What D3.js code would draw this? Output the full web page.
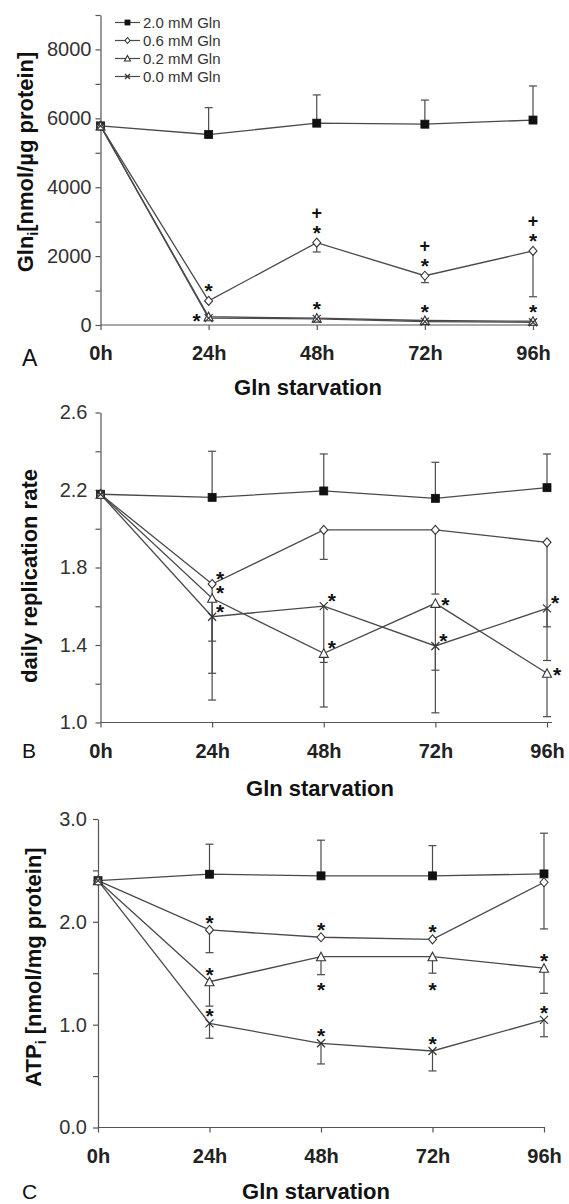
<!DOCTYPE html>
<html>
<head>
<meta charset="utf-8">
<script src="https://cdn.jsdelivr.net/npm/d3@7"></script>
<style>
  html, body { margin: 0; padding: 0; background: #fff; }
  svg { display: block; }
  text { font-family: "Liberation Sans", Arial, Helvetica, sans-serif; }
</style>
</head>
<body>
<svg id="chart" width="569" height="1204"></svg>
<script>
// ---- shared categories ----
const timeLabels = ["0h", "24h", "48h", "72h", "96h"];
const seriesNames = ["2.0 mM Gln", "0.6 mM Gln", "0.2 mM Gln", "0.0 mM Gln"];
const markerTypes = ["square", "diamond", "triangle", "cross"];

// ---- panel A: intracellular glutamine [nmol/µg protein] ----
const glnA_20 = [5780, 5530, 5860, 5830, 5950];
const glnA_06 = [5780, 700, 2390, 1430, 2150];
const glnA_02 = [5780, 240, 200, 130, 110];
const glnA_00 = [5780, 200, 180, 100, 80];
const glnA_err20Up = [0, 780, 820, 700, 990];
const glnA_err06Down = [0, 0, 270, 200, 1330];
const glnA_ticks = [0, 1000, 2000, 3000, 4000, 5000, 6000, 7000, 8000, 9000];
const glnA_tickLabels = ["0", "", "2000", "", "4000", "", "6000", "", "8000", ""];
// significance marks: time index, series index, symbol, placement
const glnA_marks = [
  [1, 1, "*", "above"], [1, 3, "*", "left"],
  [2, 1, "*", "above"], [2, 1, "+", "above2"], [2, 3, "*", "above"],
  [3, 1, "*", "above"], [3, 1, "+", "above2"], [3, 3, "*", "above"],
  [4, 1, "*", "above"], [4, 1, "+", "above2"], [4, 3, "*", "above"]
];

// ---- panel B: daily replication rate ----
const rateB_20 = [2.178, 2.162, 2.195, 2.157, 2.212];
const rateB_06 = [2.178, 1.715, 1.994, 1.994, 1.930];
const rateB_02 = [2.178, 1.641, 1.357, 1.615, 1.254];
const rateB_00 = [2.178, 1.546, 1.601, 1.395, 1.589];
const rateB_err20Up = [0, 0.238, 0.191, 0.186, 0.174];
const rateB_err06Down = [0, 0.295, 0.152, 0.331, 0.436];
const rateB_err02Down = [0, 0.387, 0.047, 0.345, 0.224];
const rateB_err00Down = [0, 0.430, 0.521, 0.345, 0.269];
const rateB_ticks = [1.0, 1.2, 1.4, 1.6, 1.8, 2.0, 2.2, 2.4, 2.6];
const rateB_tickLabels = ["1.0", "", "1.4", "", "1.8", "", "2.2", "", "2.6"];
const rateB_marks = [
  [1, 1, "*", "upright"], [1, 2, "*", "upright"], [1, 3, "*", "upright"],
  [2, 3, "*", "upright"], [2, 2, "*", "upright"],
  [3, 2, "*", "right"], [3, 3, "*", "upright"],
  [4, 3, "*", "upright"], [4, 2, "*", "right"]
];

// ---- panel C: intracellular ATP [nmol/mg protein] ----
const atpC_20 = [2.40, 2.463, 2.447, 2.447, 2.466];
const atpC_06 = [2.40, 1.921, 1.850, 1.830, 2.385];
const atpC_02 = [2.40, 1.418, 1.661, 1.661, 1.549];
const atpC_00 = [2.40, 1.013, 0.819, 0.744, 1.046];
const atpC_err20Up = [0, 0.292, 0.347, 0.294, 0.396];
const atpC_err06Down = [0, 0.221, 0, 0, 0.454];
const atpC_err02Down = [0, 0.238, 0.175, 0.160, 0.244];
const atpC_err00Down = [0, 0.145, 0.201, 0.194, 0.163];
const atpC_ticks = [0, 0.5, 1.0, 1.5, 2.0, 2.5, 3.0];
const atpC_tickLabels = ["0.0", "", "1.0", "", "2.0", "", "3.0"];
const atpC_marks = [
  [1, 1, "*", "above"], [1, 2, "*", "above"], [1, 3, "*", "above"],
  [2, 1, "*", "above"], [2, 2, "*", "below"], [2, 3, "*", "above"],
  [3, 1, "*", "above"], [3, 2, "*", "below"], [3, 3, "*", "above"],
  [4, 2, "*", "above"], [4, 3, "*", "above"]
];

const svg = d3.select("#chart");
const LINE = "#4a4a4a";
const INK = "#222";

function drawMarker(sel, type, s) {
  const h = s / 2;
  if (type === "square") {
    sel.append("rect").attr("x", -h).attr("y", -h).attr("width", s).attr("height", s)
      .attr("fill", "#111").attr("stroke", "#111").attr("stroke-width", 0.8);
  } else if (type === "diamond") {
    sel.append("path").attr("d", `M0,${-h - 0.5}L${h},0L0,${h + 0.5}L${-h},0Z`)
      .attr("fill", "#fff").attr("stroke", "#333").attr("stroke-width", 1.1);
  } else if (type === "triangle") {
    sel.append("path").attr("d", `M0,${-h - 0.5}L${h + 0.5},${h}L${-h - 0.5},${h}Z`)
      .attr("fill", "#fff").attr("stroke", "#333").attr("stroke-width", 1.1);
  } else {
    sel.append("path").attr("d", `M${-h},${-h}L${h},${h}M${-h},${h}L${h},${-h}`)
      .attr("fill", "none").attr("stroke", "#333").attr("stroke-width", 1.2);
  }
}

function drawPanel(cfg) {
  const g = svg.append("g");
  const x = d3.scalePoint().domain(timeLabels).range(cfg.xRange);
  const y = d3.scaleLinear().domain(cfg.yDomain).range(cfg.yRange);

  // y axis
  const yAxis = d3.axisLeft(y).tickValues(cfg.ticks).tickSize(5).tickSizeOuter(0)
    .tickPadding(cfg.yPad).tickFormat((d, i) => cfg.tickLabels[i]);
  const ya = g.append("g").attr("transform", `translate(${cfg.xRange[0]},0)`).call(yAxis);
  ya.selectAll("path, line").attr("stroke", "#555").attr("stroke-width", 1.2);
  ya.selectAll("text").attr("font-size", 20).attr("fill", "#333")
    .attr("font-family", "'Liberation Sans', Arial, sans-serif");

  // x axis
  const xAxis = d3.axisBottom(x).tickSize(5).tickSizeOuter(0).tickPadding(16);
  const xa = g.append("g").attr("transform", `translate(0,${cfg.yRange[0]})`).call(xAxis);
  xa.select("path").attr("d", `M${cfg.xRange[0]},0H${cfg.xRange[1] + cfg.xExtra}`);
  xa.selectAll("path, line").attr("stroke", "#555").attr("stroke-width", 1.2);
  xa.selectAll("text").attr("font-size", 20).attr("font-weight", "bold").attr("fill", INK)
    .attr("font-family", "'Liberation Sans', Arial, sans-serif");

  // series lines
  const line = d3.line().x((d, i) => x(timeLabels[i])).y(d => y(d));
  cfg.series.forEach(vals => {
    g.append("path").datum(vals).attr("d", line)
      .attr("fill", "none").attr("stroke", LINE).attr("stroke-width", 1.3);
  });

  // error bars (one-sided)
  cfg.errors.forEach(([si, dir, errs]) => {
    errs.forEach((e, i) => {
      if (!e) return;
      const v = cfg.series[si][i];
      const cx = x(timeLabels[i]);
      const y0 = y(v), y1 = y(dir === "up" ? v + e : v - e);
      g.append("line").attr("x1", cx).attr("x2", cx).attr("y1", y0).attr("y2", y1)
        .attr("stroke", LINE).attr("stroke-width", 1.2);
      g.append("line").attr("x1", cx - 4).attr("x2", cx + 4).attr("y1", y1).attr("y2", y1)
        .attr("stroke", LINE).attr("stroke-width", 1.2);
    });
  });

  // markers
  cfg.series.forEach((vals, si) => {
    vals.forEach((v, i) => {
      const m = g.append("g").attr("transform", `translate(${x(timeLabels[i])},${y(v)})`);
      drawMarker(m, markerTypes[si], 8);
    });
  });

  // significance marks
  const place = cfg.place;
  cfg.marks.forEach(([ti, si, sym, where]) => {
    const [dx, dy] = place[where];
    const cx = x(timeLabels[ti]) + dx;
    const cy = y(cfg.series[si][ti]) + dy;
    if (sym === "*") {
      g.append("text").attr("x", cx).attr("y", cy + 12).attr("text-anchor", "middle")
        .attr("font-size", 21).attr("font-weight", "bold").attr("fill", "#111").text("*");
    } else {
      g.append("text").attr("x", cx).attr("y", cy + 6.5).attr("text-anchor", "middle")
        .attr("font-size", 18).attr("font-weight", "bold").attr("fill", "#111").text("+");
    }
  });

  // axis titles and panel letter
  const yt = g.append("text")
    .attr("transform", `translate(${cfg.yTitleX},${cfg.yTitleY}) rotate(-90)`)
    .attr("text-anchor", "middle").attr("font-size", 22).attr("font-weight", "bold").attr("fill", "#111");
  cfg.yTitle.forEach(([t, sub]) => {
    const ts = yt.append("tspan").text(t);
    if (sub) ts.attr("font-size", 14).attr("dy", 5);
    else if (cfg.yTitle.length > 1) ts.attr("dy", sub === false ? -5 : 0);
  });

  g.append("text").attr("x", cfg.xTitleX).attr("y", cfg.xTitleY).attr("text-anchor", "middle")
    .attr("font-size", 22).attr("font-weight", "bold").attr("fill", "#111").text("Gln starvation");

  g.append("text").attr("x", 22).attr("y", cfg.letterY).attr("font-size", cfg.letterSize)
    .attr("fill", "#111").text(cfg.letter);

  return { g, x, y };
}

// Panel A
const pA = drawPanel({
  xRange: [100.5, 533], xExtra: 4, yDomain: [0, 9000], yRange: [325, 15],
  ticks: glnA_ticks, tickLabels: glnA_tickLabels, yPad: 4,
  series: [glnA_20, glnA_06, glnA_02, glnA_00],
  errors: [[0, "up", glnA_err20Up], [1, "down", glnA_err06Down]],
  marks: glnA_marks,
  place: { above: [0, -15], above2: [0, -30], left: [-12, -2] },
  yTitle: [["Gln", null], ["i", true], ["[nmol/µg protein]", false]],
  yTitleX: 33, yTitleY: 162,
  xTitleX: 308, xTitleY: 395, letter: "A", letterY: 366, letterSize: 23
});

// legend for panel A
const legend = pA.g.append("g");
seriesNames.forEach((name, i) => {
  const ly = 22.5 + i * 18;
  legend.append("line").attr("x1", 115).attr("x2", 140).attr("y1", ly).attr("y2", ly)
    .attr("stroke", LINE).attr("stroke-width", 1.2);
  const m = legend.append("g").attr("transform", `translate(127.5,${ly})`);
  drawMarker(m, markerTypes[i], 5);
  legend.append("text").attr("x", 143).attr("y", ly + 5.5).attr("font-size", 15)
    .attr("fill", "#333").text(name);
});

// Panel B
drawPanel({
  xRange: [100.5, 547], xExtra: 5, yDomain: [1.0, 2.6], yRange: [722.5, 412.5],
  ticks: rateB_ticks, tickLabels: rateB_tickLabels, yPad: 8,
  series: [rateB_20, rateB_06, rateB_02, rateB_00],
  errors: [[0, "up", rateB_err20Up], [1, "down", rateB_err06Down],
           [2, "down", rateB_err02Down], [3, "down", rateB_err00Down]],
  marks: rateB_marks,
  place: { upright: [8, -10], right: [10, -3] },
  yTitle: [["daily replication rate", null]],
  yTitleX: 37, yTitleY: 576,
  xTitleX: 320, xTitleY: 796, letter: "B", letterY: 758, letterSize: 21
});

// Panel C
drawPanel({
  xRange: [98, 544], xExtra: 1, yDomain: [0, 3], yRange: [1127.5, 819],
  ticks: atpC_ticks, tickLabels: atpC_tickLabels, yPad: 6,
  series: [atpC_20, atpC_06, atpC_02, atpC_00],
  errors: [[0, "up", atpC_err20Up], [1, "down", atpC_err06Down],
           [2, "down", atpC_err02Down], [3, "down", atpC_err00Down]],
  marks: atpC_marks,
  place: { above: [0, -12], below: [0, 28] },
  yTitle: [["ATP", null], ["i", true], [" [nmol/mg protein]", false]],
  yTitleX: 41, yTitleY: 967,
  xTitleX: 316, xTitleY: 1199, letter: "C", letterY: 1199, letterSize: 21
});
</script>
</body>
</html>
